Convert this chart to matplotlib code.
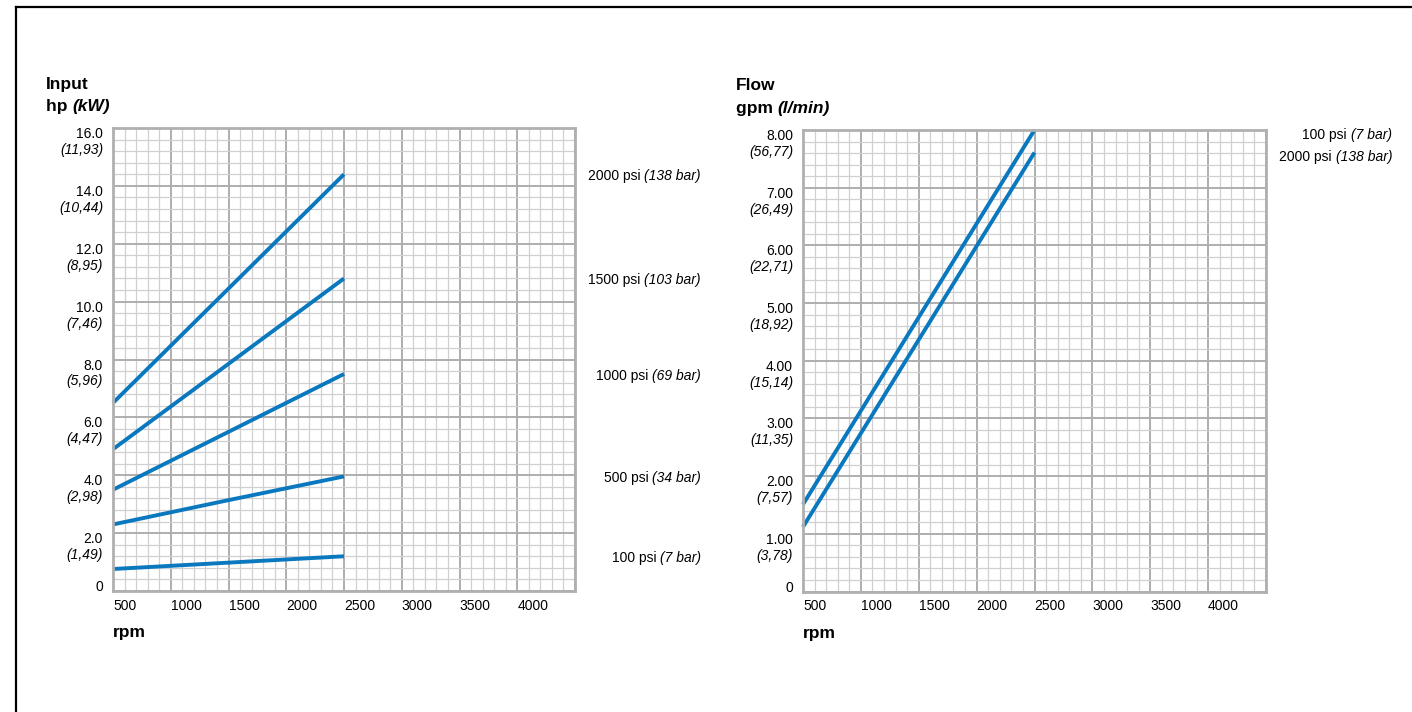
import matplotlib
matplotlib.use('Agg')
import matplotlib.pyplot as plt
from matplotlib.lines import Line2D
from matplotlib.ticker import MultipleLocator

plt.rcParams['font.family'] = ['Liberation Sans', 'DejaVu Sans']

# ======================
# DATA
# ======================
rpm_hp = [500, 1500, 2500]
hp_2000 = [6.5, 10.45, 14.4]
hp_1500 = [4.9, 7.85, 10.8]
hp_1000 = [3.5, 5.5, 7.5]
hp_500 = [2.3, 3.14, 3.96]
hp_100 = [0.76, 0.98, 1.2]
hp_series = [hp_2000, hp_1500, hp_1000, hp_500, hp_100]
hp_names = ['2000 psi ', '1500 psi ', '1000 psi ', '500 psi ', '100 psi ']
hp_bars = ['(138 bar)', '(103 bar)', '(69 bar)', '(34 bar)', '(7 bar)']

hp_ticks = [16, 14, 12, 10, 8, 6, 4, 2]
hp_tick_top = ['16.0', '14.0', '12.0', '10.0', '8.0', '6.0', '4.0', '2.0']
hp_tick_kw = ['(11,93)', '(10,44)', '(8,95)', '(7,46)', '(5,96)', '(4,47)', '(2,98)', '(1,49)']

rpm_flow = [500, 2500]
flow_100 = [1.51, 8.0]
flow_2000 = [1.12, 7.61]
flow_series = [flow_100, flow_2000]
flow_names = ['100 psi ', '2000 psi ']
flow_bars = ['(7 bar)', '(138 bar)']

flow_ticks = [8, 7, 6, 5, 4, 3, 2, 1]
flow_tick_top = ['8.00', '7.00', '6.00', '5.00', '4.00', '3.00', '2.00', '1.00']
flow_tick_l = ['(56,77)', '(26,49)', '(22,71)', '(18,92)', '(15,14)', '(11,35)', '(7,57)', '(3,78)']

x_ticks = [500, 1000, 1500, 2000, 2500, 3000, 3500, 4000]

BLUE = '#0a78bf'
FS = 10

fig = plt.figure(figsize=(14.12, 7.12), dpi=100)

# frame lines (left + top)
fig.add_artist(Line2D([16 / 1412, 16 / 1412], [0, 1 - 7 / 712], transform=fig.transFigure, color='black', lw=1.6))
fig.add_artist(Line2D([16 / 1412, 1], [1 - 7 / 712, 1 - 7 / 712], transform=fig.transFigure, color='black', lw=1.6))


def setup(ax, ymax, ymaj, ymin):
    ax.set_xlim(500, 4500)
    ax.set_ylim(0, ymax)
    ax.xaxis.set_major_locator(MultipleLocator(500))
    ax.xaxis.set_minor_locator(MultipleLocator(100))
    ax.yaxis.set_major_locator(MultipleLocator(ymaj))
    ax.yaxis.set_minor_locator(MultipleLocator(ymin))
    ax.grid(which='minor', color='#d0d0d0', lw=0.9)
    ax.grid(which='major', color='#aeaeae', lw=1.4)
    ax.set_axisbelow(True)
    ax.tick_params(which='both', length=0, labelbottom=False, labelleft=False)
    for s in ax.spines.values():
        s.set_color('#b0b0b0')
        s.set_linewidth(2)
    for xt in x_ticks:
        ax.annotate(str(xt), xy=(xt, 0), xycoords=('data', 'axes fraction'),
                    xytext=(0, -15), textcoords='offset pixels',
                    ha='left', va='center', fontsize=FS)
    ax.annotate('rpm', xy=(0, 0), xycoords='axes fraction', xytext=(0, -42),
                textcoords='offset pixels', ha='left', va='center',
                fontsize=12.5, fontweight='bold')
    ax.annotate('0', xy=(0, 0), xycoords='axes fraction', xytext=(-10, 4),
                textcoords='offset pixels', ha='right', va='center', fontsize=FS)


def ylabels(ax, ticks, top, low):
    for v, a, b in zip(ticks, top, low):
        ax.annotate(a, xy=(0, v), xycoords=('axes fraction', 'data'), xytext=(-10, -6),
                    textcoords='offset pixels', ha='right', va='center', fontsize=FS)
        ax.annotate(b, xy=(0, v), xycoords=('axes fraction', 'data'), xytext=(-10, -22),
                    textcoords='offset pixels', ha='right', va='center', fontsize=FS,
                    style='italic')


def title(ax, t1, t2, t3):
    ax.annotate(t1, xy=(0, 1), xycoords='axes fraction', xytext=(-67, 44),
                textcoords='offset pixels', ha='left', va='center',
                fontsize=12.5, fontweight='bold')
    t = ax.annotate(t2, xy=(0, 1), xycoords='axes fraction', xytext=(-67, 22),
                    textcoords='offset pixels', ha='left', va='center',
                    fontsize=12.5, fontweight='bold')
    ax.annotate(t3, xy=(1, 0), xycoords=t, ha='left', va='bottom',
                fontsize=12.5, fontweight='bold', style='italic')


def series_label(ax, yv, name, bar, dy):
    it = ax.annotate(bar, xy=(1, yv), xycoords=('axes fraction', 'data'), xytext=(126, dy),
                     textcoords='offset pixels', ha='right', va='center',
                     fontsize=FS, style='italic', annotation_clip=False)
    ax.annotate(name, xy=(0, 0), xycoords=it, ha='right', va='bottom', fontsize=FS)


# ======================
# LEFT: INPUT POWER
# ======================
ax1 = fig.add_axes([113 / 1412, 1 - 591 / 712, 462 / 1412, 463 / 712])
setup(ax1, 16, 2, 0.4)
ylabels(ax1, hp_ticks, hp_tick_top, hp_tick_kw)
title(ax1, 'Input', 'hp ', '(kW)')
for ys, n, b in zip(hp_series, hp_names, hp_bars):
    ax1.plot(rpm_hp, ys, color=BLUE, lw=2.8, solid_capstyle='butt', clip_on=False)
    series_label(ax1, ys[-1], n, b, -2)

# ======================
# RIGHT: FLOW
# ======================
ax2 = fig.add_axes([803 / 1412, 1 - 591.5 / 712, 463 / 1412, 461.5 / 712])
setup(ax2, 8, 1, 0.2)
ylabels(ax2, flow_ticks, flow_tick_top, flow_tick_l)
title(ax2, 'Flow', 'gpm ', '(l/min)')
for ys, n, b in zip(flow_series, flow_names, flow_bars):
    ax2.plot(rpm_flow, ys, color=BLUE, lw=2.8, solid_capstyle='butt', clip_on=False)
    series_label(ax2, ys[-1], n, b, -5)

fig.savefig('out.png', dpi=100)
